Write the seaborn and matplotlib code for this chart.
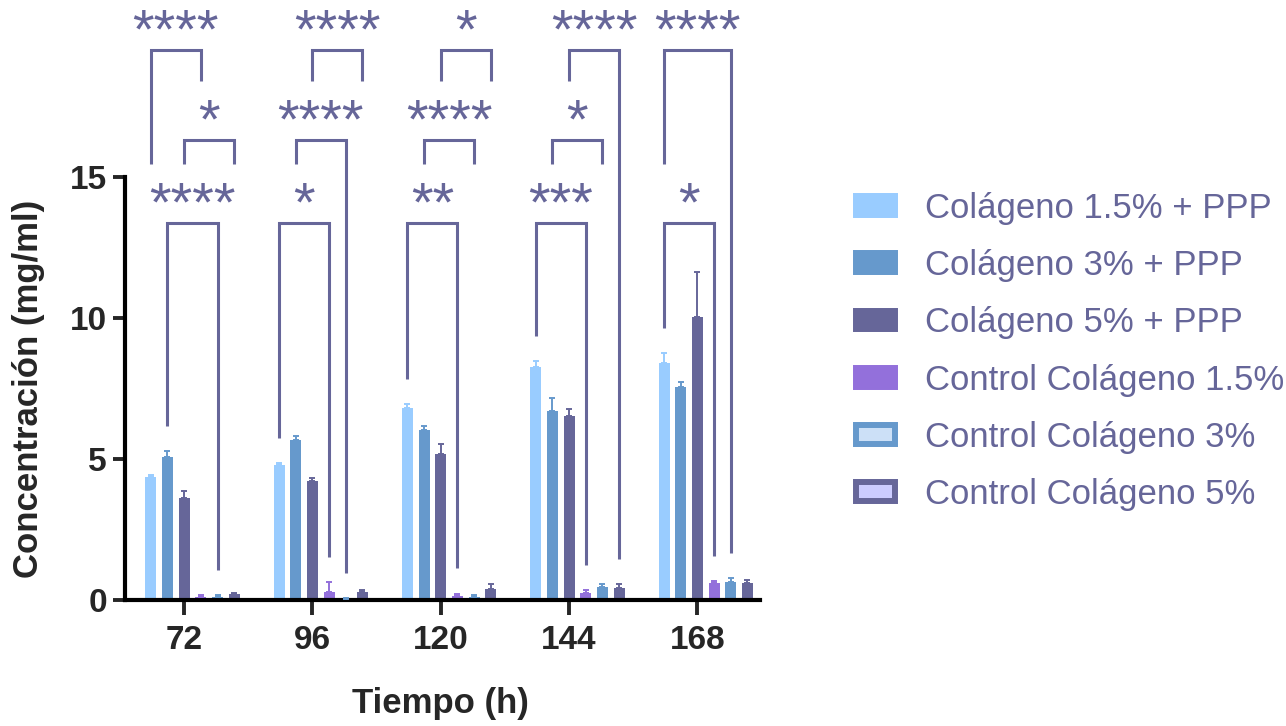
import numpy as np
import pandas as pd
import matplotlib
matplotlib.use("Agg")
import matplotlib.pyplot as plt
from matplotlib.patches import Patch
import seaborn as sns

# datos
tiempos = ["72", "96", "120", "144", "168"]
grupos = [
    "Colágeno 1.5% + PPP",
    "Colágeno 3% + PPP",
    "Colágeno 5% + PPP",
    "Control Colágeno 1.5%",
    "Control Colágeno 3%",
    "Control Colágeno 5%",
]

col15 = [4.35, 4.78, 6.80, 8.25, 8.40]
col3 = [5.08, 5.67, 6.03, 6.70, 7.54]
col5 = [3.63, 4.23, 5.17, 6.52, 10.02]
ctrl15 = [0.12, 0.28, 0.13, 0.25, 0.61]
ctrl3 = [0.12, 0.05, 0.12, 0.46, 0.65]
ctrl5 = [0.21, 0.30, 0.38, 0.41, 0.61]

col15_err = [0.08, 0.09, 0.16, 0.24, 0.37]
col3_err = [0.20, 0.16, 0.15, 0.46, 0.20]
col5_err = [0.22, 0.10, 0.37, 0.26, 1.60]
ctrl15_err = [0.04, 0.36, 0.10, 0.09, 0.06]
ctrl3_err = [0.05, 0.02, 0.07, 0.10, 0.12]
ctrl5_err = [0.05, 0.04, 0.17, 0.15, 0.10]

medias = [col15, col3, col5, ctrl15, ctrl3, ctrl5]
errores = [col15_err, col3_err, col5_err, ctrl15_err, ctrl3_err, ctrl5_err]

# comparaciones: (tiempo, barra a, barra b, fila, etiqueta, pata a, pata b)
comparaciones = [
    (0, 0, 3, 0, "****", "media", "corta"),
    (0, 2, 5, 1, "*", "media", "media"),
    (0, 1, 4, 2, "****", "barra", "barra"),
    (1, 2, 5, 0, "****", "corta", "corta"),
    (1, 1, 4, 1, "****", "media", "barra"),
    (1, 0, 3, 2, "*", "barra", "barra"),
    (2, 2, 5, 0, "*", "corta", "corta"),
    (2, 1, 4, 1, "****", "media", "media"),
    (2, 0, 3, 2, "**", "barra", "barra"),
    (3, 2, 5, 0, "****", "corta", "barra"),
    (3, 1, 4, 1, "*", "media", "media"),
    (3, 0, 3, 2, "***", "barra", "barra"),
    (4, 0, 4, 0, "****", "media", "barra"),
    (4, 0, 3, 2, "*", "barra", "barra"),
]

# estilo
colores = ["#99ccff", "#6699cc", "#666699", "#9370db", "#6699cc", "#666699"]
rellenos = ["#99ccff", "#6699cc", "#666699", "#9370db", "#cce0f7", "#ccccff"]
C_SIG = "#666699"
FILAS = [19.5, 16.31, 13.37]
PATA_CORTA = 18.4
PATA_MEDIA = 15.46
HUECO = 0.89

filas = []
for g, m in zip(grupos, medias):
    for t, v in zip(tiempos, m):
        filas.append({"Tiempo": t, "Grupo": g, "Valor": v})
df = pd.DataFrame(filas)

sns.set_style("ticks")
plt.rcParams["font.family"] = ["Liberation Sans", "DejaVu Sans"]

fig = plt.figure(figsize=(12.86, 7.26), dpi=100)
ax = fig.add_axes([125 / 1286, 126 / 726, 635 / 1286, 600 / 726])

sns.barplot(data=df, x="Tiempo", y="Valor", hue="Grupo", order=tiempos,
            hue_order=grupos, palette=dict(zip(grupos, colores)),
            saturation=1, width=0.78, gap=0.34, errorbar=None,
            linewidth=0, legend=False, ax=ax)
barras = list(ax.containers)

# barras de error (solo hacia arriba)
for i, cont in enumerate(barras):
    for j, bar in enumerate(cont):
        xc = bar.get_x() + bar.get_width() / 2
        ax.errorbar(xc, bar.get_height(), yerr=[[0], [errores[i][j]]],
                    color=colores[i], capsize=2.3, elinewidth=1.4,
                    capthick=1.4, fmt="none", zorder=3)


def centro(i, t):
    bar = barras[i][t]
    return bar.get_x() + bar.get_width() / 2


def fin_pata(tipo, i, t):
    if tipo == "corta":
        return PATA_CORTA
    if tipo == "media":
        return PATA_MEDIA
    return medias[i][t] + errores[i][t] + HUECO


usadas = set()
for t, a, b, fila, txt, pa, pb in comparaciones:
    xa = centro(a, t)
    xb = centro(b, t)
    if (t, a) in usadas and pa == "media":
        xa += 0.05
    usadas.add((t, a))
    y = FILAS[fila]
    ax.plot([xa, xa, xb, xb], [fin_pata(pa, a, t), y, y, fin_pata(pb, b, t)],
            color=C_SIG, lw=2.2, solid_joinstyle="miter",
            solid_capstyle="butt", clip_on=False, zorder=4)
    ax.annotate(txt, xy=((xa + xb) / 2, y), xytext=(0, 2),
                textcoords="offset points", ha="center", va="baseline",
                fontsize=40, color=C_SIG, annotation_clip=False)

# ejes
ax.set_xlim(-0.526, 4.423)
ax.set_ylim(0, 21.28)
ax.set_yticks([0, 5, 10, 15])
ax.set_xticks([centro(2, t) for t in range(len(tiempos))], tiempos)
sns.despine(ax=ax)
ax.spines["left"].set_bounds(0, 15)
for s in ["left", "bottom"]:
    ax.spines[s].set_linewidth(3)
    ax.spines[s].set_color("black")
ax.tick_params(axis="x", length=11, width=2.8, pad=7, labelsize=24)
ax.tick_params(axis="y", length=9, width=2.8, pad=4, labelsize=24)
for lab in ax.get_xticklabels() + ax.get_yticklabels():
    lab.set_fontweight("bold")

ax.set_xlabel("Tiempo (h)", fontsize=25, fontweight="bold")
ax.set_ylabel("Concentración (mg/ml)", fontsize=25, fontweight="bold")
ax.xaxis.set_label_coords(0.496, -0.145)
ax.yaxis.set_label_coords(-0.126, 0.352)

# leyenda
handles = [Patch(facecolor=f, edgecolor=c, linewidth=4.3)
           for f, c in zip(rellenos, colores)]
fig.legend(handles, grupos, loc="center left",
           bbox_to_anchor=(856 / 1286, 1 - 351.5 / 726), frameon=False,
           fontsize=25, labelcolor=C_SIG, handlelength=1.12,
           handleheight=0.46, handletextpad=0.86, labelspacing=0.7,
           borderpad=0, borderaxespad=0)

fig.savefig("out.png", dpi=100)
